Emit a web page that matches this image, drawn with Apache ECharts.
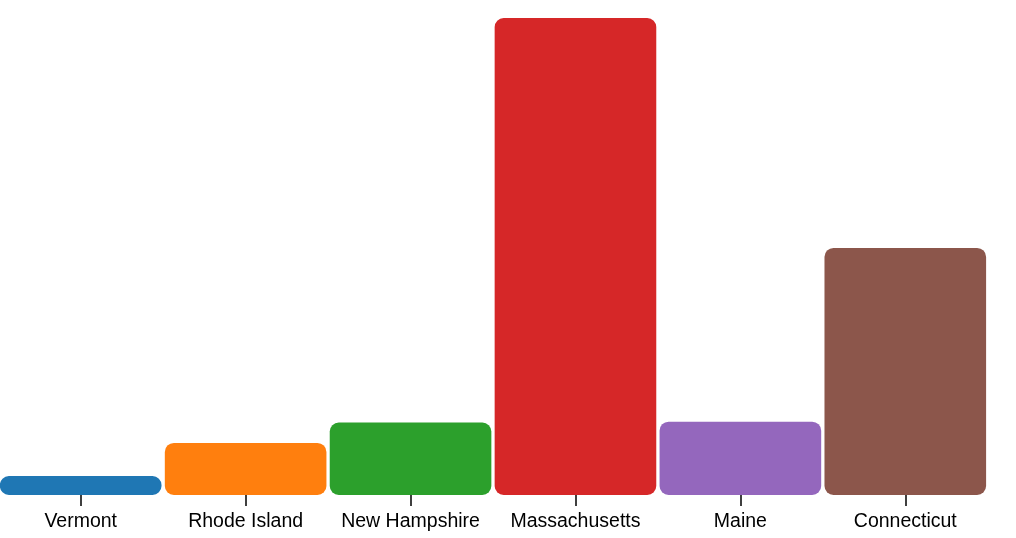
<!DOCTYPE html>
<html>
<head>
<meta charset="utf-8">
<script src="https://cdn.jsdelivr.net/npm/echarts@6/dist/echarts.min.js"></script>
<style>
html,body{margin:0;padding:0;background:#fff;}
#chart{width:1016px;height:538px;}
</style>
</head>
<body>
<div id="chart"></div>
<script>
const states = ["Vermont", "Rhode Island", "New Hampshire", "Massachusetts", "Maine", "Connecticut"];
const population = [625741, 1052567, 1316470, 6547629, 1328361, 3574097];
const colors = ["#1f77b4", "#ff7f0e", "#2ca02c", "#d62728", "#9467bd", "#8c564b"];

const chart = echarts.init(document.getElementById('chart'), null, {renderer: 'canvas'});
chart.setOption({
  animation: false,
  grid: {left: -1.75, right: 28.25, top: 18, bottom: 43, containLabel: false, outerBoundsMode: 'none'},
  xAxis: {
    type: 'category',
    data: states,
    axisLine: {show: false},
    axisTick: {show: true, alignWithLabel: true, length: 11, lineStyle: {color: '#000', width: 1.5}},
    axisLabel: {color: '#000', fontSize: 19.5, fontFamily: 'Liberation Sans, Arial, Helvetica, sans-serif', margin: 17, interval: 0}
  },
  yAxis: {
    type: 'value',
    min: 380000,
    max: 6547629,
    show: false,
    splitLine: {show: false}
  },
  series: [{
    type: 'bar',
    barCategoryGap: '2%',
    data: population.map((v, i) => ({value: v, itemStyle: {color: colors[i]}})),
    itemStyle: {borderRadius: 9}
  }]
});
</script>
</body>
</html>
